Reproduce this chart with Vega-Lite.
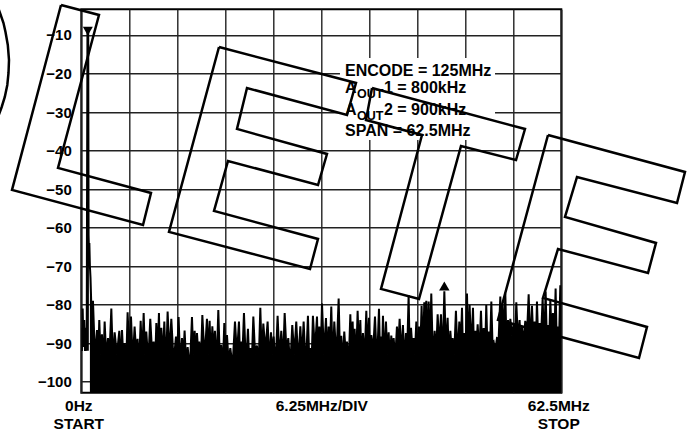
{
"$schema":"https://vega.github.io/schema/vega-lite/v6.json",
"width":480,"height":383.4,
"autosize":{"type":"none"},
"padding":{"left":81.3,"top":9.3,"right":136.7,"bottom":44.3},
"background":"white",
"config":{"view":{"stroke":"black","strokeWidth":2},"font":"Liberation Sans"},
"datasets":{
"spec":[
{"f":0,"d":-86},{"f":0.08,"d":-92},{"f":0.18,"d":-81},{"f":0.28,"d":-91},{"f":0.38,"d":-84},{"f":0.48,"d":-92},{"f":0.58,"d":-86},{"f":0.7,"d":-92},{"f":0.8,"d":-9},{"f":0.85,"d":-92},{"f":0.9,"d":-9},{"f":0.95,"d":-62},{"f":1.0,"d":-66},{"f":1.05,"d":-64},{"f":1.12,"d":-70},{"f":1.2,"d":-73},{"f":1.3,"d":-80},{"f":1.4,"d":-86},{"f":1.52,"d":-79},{"f":1.78,"d":-94},
{"f":2.04,"d":-86.6},{"f":2.19,"d":-95},{"f":2.34,"d":-84},{"f":2.51,"d":-93},{"f":2.69,"d":-87.7},{"f":2.86,"d":-96},{"f":3.04,"d":-84.4},{"f":3.25,"d":-94},{"f":3.47,"d":-88.7},{"f":3.69,"d":-92},{"f":3.91,"d":-81},{"f":4.12,"d":-95},{"f":4.34,"d":-87.2},{"f":4.64,"d":-93},{"f":4.95,"d":-86.8},{"f":5.12,"d":-96},{"f":5.3,"d":-86.6},{"f":5.47,"d":-94},{"f":5.64,"d":-90},{"f":5.83,"d":-97},{"f":6.03,"d":-82},{"f":6.25,"d":-93},{"f":6.47,"d":-83.1},{"f":6.7,"d":-95},{"f":6.94,"d":-85.7},{"f":7.13,"d":-92},{"f":7.33,"d":-88.9},{"f":7.53,"d":-96},{"f":7.73,"d":-84.2},{"f":7.92,"d":-94},{"f":8.12,"d":-82.2},{"f":8.29,"d":-93},{"f":8.46,"d":-87},{"f":8.72,"d":-95},{"f":8.98,"d":-83.7},{"f":9.2,"d":-92},{"f":9.42,"d":-89.6},{"f":9.6,"d":-96},{"f":9.77,"d":-84.8},{"f":9.94,"d":-93},{"f":10.11,"d":-82.2},{"f":10.26,"d":-95},{"f":10.42,"d":-86},{"f":10.61,"d":-94},{"f":10.81,"d":-84.4},{"f":11.02,"d":-97},{"f":11.24,"d":-81.8},{"f":11.48,"d":-93},{"f":11.72,"d":-83.7},{"f":12.02,"d":-95},{"f":12.33,"d":-88.3},{"f":12.5,"d":-92},{"f":12.67,"d":-83.2},{"f":12.89,"d":-96},{"f":13.11,"d":-88.7},{"f":13.28,"d":-94},{"f":13.45,"d":-86.7},{"f":13.65,"d":-95},{"f":13.85,"d":-91},{"f":14.13,"d":-97},{"f":14.41,"d":-83.2},{"f":14.58,"d":-93},{"f":14.76,"d":-86.8},{"f":14.91,"d":-95},{"f":15.06,"d":-87.4},{"f":15.21,"d":-92},{"f":15.36,"d":-89.6},{"f":15.56,"d":-96},{"f":15.76,"d":-82.7},{"f":16.06,"d":-94},{"f":16.36,"d":-83.7},{"f":16.53,"d":-93},{"f":16.71,"d":-84.2},{"f":16.88,"d":-95},{"f":17.06,"d":-85.6},{"f":17.23,"d":-92},{"f":17.4,"d":-86.8},{"f":17.62,"d":-96},{"f":17.84,"d":-81.4},{"f":18.03,"d":-94},{"f":18.23,"d":-90.5},{"f":18.42,"d":-97},{"f":18.62,"d":-84.8},{"f":18.79,"d":-93},{"f":18.97,"d":-87.9},{"f":19.18,"d":-95},{"f":19.4,"d":-91.3},{"f":19.7,"d":-96},{"f":20.01,"d":-84.4},{"f":20.27,"d":-93},{"f":20.53,"d":-84.4},{"f":20.68,"d":-95},{"f":20.83,"d":-89.6},{"f":21.0,"d":-92},{"f":21.18,"d":-82.2},{"f":21.44,"d":-96},{"f":21.7,"d":-86.3},{"f":21.85,"d":-94},{"f":22.01,"d":-91.3},{"f":22.2,"d":-95},{"f":22.4,"d":-83.1},{"f":22.63,"d":-93},{"f":22.87,"d":-90.6},{"f":23.09,"d":-96},{"f":23.31,"d":-80.8},{"f":23.5,"d":-94},{"f":23.7,"d":-84.9},{"f":23.98,"d":-92},{"f":24.26,"d":-84.4},{"f":24.48,"d":-95},{"f":24.7,"d":-87.2},{"f":24.87,"d":-93},{"f":25.04,"d":-88.3},{"f":25.3,"d":-96},{"f":25.56,"d":-82.9},{"f":25.8,"d":-94},{"f":26.04,"d":-86.8},{"f":26.26,"d":-95},{"f":26.48,"d":-82.2},{"f":26.71,"d":-92},{"f":26.95,"d":-88.7},{"f":27.21,"d":-96},{"f":27.47,"d":-85.3},{"f":27.73,"d":-93},{"f":27.99,"d":-84.4},{"f":28.25,"d":-95},{"f":28.52,"d":-85.6},{"f":28.73,"d":-94},{"f":28.95,"d":-84.4},{"f":29.23,"d":-97},{"f":29.51,"d":-82.9},{"f":29.66,"d":-93},{"f":29.82,"d":-91.3},{"f":29.99,"d":-95},{"f":30.16,"d":-82.9},{"f":30.42,"d":-92},{"f":30.69,"d":-83.1},{"f":30.84,"d":-96},{"f":30.99,"d":-85.7},{"f":31.16,"d":-94},{"f":31.34,"d":-79.7},{"f":31.6,"d":-93},{"f":31.86,"d":-83.5},{"f":32.03,"d":-95},{"f":32.2,"d":-85.7},{"f":32.37,"d":-92},{"f":32.55,"d":-80.5},{"f":32.74,"d":-96},{"f":32.94,"d":-84.4},{"f":33.22,"d":-94},{"f":33.51,"d":-78.4},{"f":33.68,"d":-93},{"f":33.85,"d":-88.1},{"f":34.04,"d":-95},{"f":34.24,"d":-87},{"f":34.41,"d":-92},{"f":34.59,"d":-89.6},{"f":34.81,"d":-96},{"f":35.03,"d":-82.5},{"f":35.18,"d":-94},{"f":35.33,"d":-84.4},{"f":35.46,"d":-93},{"f":35.59,"d":-86.3},{"f":35.78,"d":-95},{"f":35.98,"d":-81.6},{"f":36.15,"d":-92},{"f":36.33,"d":-84},{"f":36.5,"d":-96},{"f":36.67,"d":-87.4},{"f":36.89,"d":-94},{"f":37.11,"d":-81.6},{"f":37.28,"d":-93},{"f":37.46,"d":-83.4},{"f":37.61,"d":-95},{"f":37.76,"d":-87.9},{"f":38.0,"d":-92},{"f":38.24,"d":-83.1},{"f":38.5,"d":-96},{"f":38.76,"d":-81.1},{"f":38.91,"d":-94},{"f":39.06,"d":-88.3},{"f":39.17,"d":-92},{"f":39.28,"d":-82.9},{"f":39.47,"d":-95},{"f":39.67,"d":-84.4},{"f":39.84,"d":-93},{"f":40.02,"d":-87.2},{"f":40.19,"d":-95},{"f":40.36,"d":-88},{"f":40.51,"d":-92},{"f":40.67,"d":-88.7},{"f":40.88,"d":-94},{"f":41.1,"d":-85.7},{"f":41.27,"d":-91},{"f":41.45,"d":-83.7},{"f":41.66,"d":-93},{"f":41.88,"d":-85.3},{"f":42.07,"d":-95},{"f":42.27,"d":-87.4},{"f":42.44,"d":-92},{"f":42.62,"d":-77.5},{"f":42.77,"d":-94},{"f":42.93,"d":-86},{"f":43.1,"d":-91},{"f":43.27,"d":-88.7},{"f":43.44,"d":-93},{"f":43.62,"d":-84.4},{"f":43.79,"d":-95},{"f":43.97,"d":-85.7},{"f":44.14,"d":-92},{"f":44.31,"d":-80.3},{"f":44.48,"d":-93},{"f":44.66,"d":-79.4},{"f":44.79,"d":-91},{"f":44.92,"d":-79},{"f":45.07,"d":-94},{"f":45.23,"d":-79.2},{"f":45.4,"d":-92},{"f":45.57,"d":-77.1},{"f":45.79,"d":-95},{"f":46.01,"d":-86.8},{"f":46.2,"d":-93},{"f":46.4,"d":-82.5},{"f":46.61,"d":-91},{"f":46.83,"d":-82.5},{"f":47.05,"d":-94},{"f":47.27,"d":-76.5},{"f":47.48,"d":-92},{"f":47.7,"d":-83.4},{"f":47.87,"d":-95},{"f":48.05,"d":-86.8},{"f":48.2,"d":-91},{"f":48.35,"d":-88.7},{"f":48.56,"d":-93},{"f":48.78,"d":-81.6},{"f":49.0,"d":-94},{"f":49.22,"d":-84.4},{"f":49.39,"d":-92},{"f":49.57,"d":-80.8},{"f":49.72,"d":-95},{"f":49.87,"d":-87.4},{"f":50.04,"d":-91},{"f":50.22,"d":-77.1},{"f":50.39,"d":-93},{"f":50.56,"d":-80.1},{"f":50.78,"d":-92},{"f":51.0,"d":-80.8},{"f":51.15,"d":-94},{"f":51.3,"d":-86.8},{"f":51.45,"d":-91},{"f":51.61,"d":-85.1},{"f":51.82,"d":-93},{"f":52.04,"d":-81.6},{"f":52.21,"d":-92},{"f":52.39,"d":-86.1},{"f":52.56,"d":-94},{"f":52.73,"d":-80.1},{"f":52.88,"d":-91},{"f":53.04,"d":-87},{"f":53.21,"d":-92},{"f":53.39,"d":-79.2},{"f":53.54,"d":-90},{"f":53.69,"d":-89.6},{"f":53.9,"d":-92},{"f":54.12,"d":-88.7},{"f":54.34,"d":-89},{"f":54.56,"d":-77.9},{"f":54.71,"d":-91},{"f":54.86,"d":-80.1},{"f":55.03,"d":-89},{"f":55.21,"d":-77.1},{"f":55.38,"d":-92},{"f":55.56,"d":-84},{"f":55.71,"d":-90},{"f":55.86,"d":-83.7},{"f":56.07,"d":-88},{"f":56.29,"d":-85.1},{"f":56.46,"d":-91},{"f":56.64,"d":-79.4},{"f":56.85,"d":-89},{"f":57.07,"d":-84},{"f":57.22,"d":-92},{"f":57.38,"d":-85.7},{"f":57.59,"d":-90},{"f":57.81,"d":-84.2},{"f":58.03,"d":-88},{"f":58.25,"d":-77.3},{"f":58.46,"d":-91},{"f":58.68,"d":-80.3},{"f":58.85,"d":-89},{"f":59.03,"d":-84.4},{"f":59.18,"d":-92},{"f":59.33,"d":-79.2},{"f":59.5,"d":-90},{"f":59.68,"d":-84.8},{"f":59.87,"d":-88},{"f":60.07,"d":-78.4},{"f":60.26,"d":-91},{"f":60.46,"d":-76.6},{"f":60.61,"d":-89},{"f":60.76,"d":-85.3},{"f":60.91,"d":-91},{"f":61.07,"d":-78.8},{"f":61.24,"d":-88},{"f":61.41,"d":-82.2},{"f":61.58,"d":-90},{"f":61.76,"d":-75.8},{"f":61.89,"d":-89},{"f":62.02,"d":-85.7},{"f":62.19,"d":-91},{"f":62.37,"d":-75},{"f":62.5,"d":-88}
],
"wm":[
{"s":"O","i":0,"f":-11.107,"d":-1.435},{"s":"O","i":1,"f":-10.586,"d":-4.29},{"s":"O","i":2,"f":-10.13,"d":-6.886},{"s":"O","i":3,"f":-9.87,"d":-9.222},{"s":"O","i":4,"f":-9.57,"d":-12.597},{"s":"O","i":5,"f":-9.414,"d":-16.49},{"s":"O","i":6,"f":-9.479,"d":-19.865},{"s":"O","i":7,"f":-9.635,"d":-22.979},{"s":"O","i":8,"f":-9.961,"d":-26.094},{"s":"O","i":9,"f":-10.365,"d":-28.69},{"s":"O","i":10,"f":-10.846,"d":-31.286},
{"s":"L","i":0,"f":-2.643,"d":-2.214},{"s":"L","i":1,"f":2.305,"d":-4.81},{"s":"L","i":2,"f":-3.034,"d":-44.524},{"s":"L","i":3,"f":9.076,"d":-51.013},{"s":"L","i":4,"f":8.034,"d":-59.319},{"s":"L","i":5,"f":-9.023,"d":-50.234},{"s":"L","i":6,"f":-2.643,"d":-2.214},
{"s":"E1","i":0,"f":17.93,"d":-13.116},{"s":"E1","i":1,"f":35.768,"d":-22.46},{"s":"E1","i":2,"f":34.596,"d":-30.767},{"s":"E1","i":3,"f":21.576,"d":-23.758},{"s":"E1","i":4,"f":20.273,"d":-34.401},{"s":"E1","i":5,"f":31.992,"d":-40.89},{"s":"E1","i":6,"f":30.82,"d":-48.936},{"s":"E1","i":7,"f":19.102,"d":-42.707},{"s":"E1","i":8,"f":17.279,"d":-55.685},{"s":"E1","i":9,"f":30.82,"d":-62.953},{"s":"E1","i":10,"f":29.779,"d":-70.74},{"s":"E1","i":11,"f":11.419,"d":-61.136},{"s":"E1","i":12,"f":17.93,"d":-13.116},
{"s":"T","i":0,"f":37.852,"d":-23.758},{"s":"T","i":1,"f":57.773,"d":-34.401},{"s":"T","i":2,"f":56.602,"d":-42.447},{"s":"T","i":3,"f":49.44,"d":-38.813},{"s":"T","i":4,"f":43.971,"d":-78.527},{"s":"T","i":5,"f":39.023,"d":-75.932},{"s":"T","i":6,"f":44.362,"d":-35.958},{"s":"T","i":7,"f":37.07,"d":-32.064},{"s":"T","i":8,"f":37.852,"d":-23.758},
{"s":"E2","i":0,"f":60.768,"d":-35.958},{"s":"E2","i":1,"f":78.607,"d":-45.562},{"s":"E2","i":2,"f":77.565,"d":-53.609},{"s":"E2","i":3,"f":64.544,"d":-46.86},{"s":"E2","i":4,"f":62.982,"d":-57.243},{"s":"E2","i":5,"f":74.831,"d":-63.992},{"s":"E2","i":6,"f":73.789,"d":-71.779},{"s":"E2","i":7,"f":62.07,"d":-65.549},{"s":"E2","i":8,"f":60.117,"d":-78.268},{"s":"E2","i":9,"f":73.659,"d":-85.795},{"s":"E2","i":10,"f":72.617,"d":-93.842},{"s":"E2","i":11,"f":54.258,"d":-83.978},{"s":"E2","i":12,"f":60.768,"d":-35.958}
],
"box":[{"f":33.68,"f2":53.87,"d":-15.97,"d2":-37.26}],
"mkdown":[{"f":0.85,"d":-9.0}],
"mkup":[{"f":47.27,"d":-75.15}],
"txt":[
{"f":34.34,"d":-20.64,"t":"ENCODE = 125MHz"},
{"f":34.34,"d":-24.98,"t":"A"},
{"f":39.41,"d":-24.98,"t":"1 = 800kHz"},
{"f":34.34,"d":-30.77,"t":"A"},
{"f":39.41,"d":-30.77,"t":"2 = 900kHz"},
{"f":34.34,"d":-36.22,"t":"SPAN = 62.5MHz"}
],
"sub":[
{"f":35.9,"d":-26.43,"t":"OUT"},
{"f":35.9,"d":-32.06,"t":"OUT"}
]
},
"encoding":{
  "x":{"field":"f","type":"quantitative","scale":{"domain":[0,62.5],"nice":false,"zero":false},
   "axis":{"values":[0,6.25,12.5,18.75,25,31.25,37.5,43.75,50,56.25,62.5],"grid":true,"ticks":false,"domain":false,"title":null,
    "labelExpr":"datum.value == 0 ? ['0Hz','START'] : datum.value == 62.5 ? ['62.5MHz','STOP'] : datum.value == 31.25 ? '6.25MHz/DIV' : ''",
    "labelFont":"Liberation Sans","labelFontSize":15.5,"labelFontWeight":"bold","labelColor":"black","labelPadding":6,"labelLineHeight":17.5,
    "labelFlush":false,"labelOverlap":false,"labelBound":false,"gridColor":"#222222","gridWidth":1.4,"gridOpacity":1,
    "labelOffset":{"condition":{"test":"datum.value != 31.25","value":-3},"value":0}}},
  "y":{"field":"d","type":"quantitative","scale":{"domain":[-102.86,-3.33],"nice":false,"zero":false},
   "axis":{"values":[-10,-20,-30,-40,-50,-60,-70,-80,-90,-100],"grid":true,"ticks":false,"domain":false,"title":null,
    "labelFont":"Liberation Sans","labelFontSize":15,"labelFontWeight":"bold","labelColor":"black","labelPadding":10,
    "gridColor":"#222222","gridWidth":1.4,"gridOpacity":1}}
},
"layer":[
{"data":{"name":"spec"},"transform":[{"filter":"datum.f >= 1.1"}],
 "mark":{"type":"area","color":"black","clip":true},
 "encoding":{"y2":{"datum":-102.86}}},
{"data":{"name":"spec"},
 "mark":{"type":"line","color":"black","strokeWidth":2,"clip":true}},
{"data":{"name":"mkdown"},
 "mark":{"type":"point","shape":"triangle-down","filled":true,"color":"black","size":100,"opacity":1}},
{"data":{"name":"mkup"},
 "mark":{"type":"point","shape":"triangle-up","filled":true,"color":"black","size":110,"opacity":1}},
{"data":{"name":"box"},
 "mark":{"type":"rect","color":"white","opacity":1},
 "encoding":{"x2":{"field":"f2"},"y2":{"field":"d2"}}},
{"data":{"name":"wm"},
 "mark":{"type":"line","color":"black","strokeWidth":2.5,"strokeJoin":"miter","clip":false},
 "encoding":{"detail":{"field":"s"},"order":{"field":"i","type":"quantitative"}}},
{"data":{"name":"txt"},
 "mark":{"type":"text","font":"Liberation Sans","fontSize":16,"fontWeight":"bold","align":"left","baseline":"alphabetic","color":"black"},
 "encoding":{"text":{"field":"t"}}},
{"data":{"name":"sub"},
 "mark":{"type":"text","font":"Liberation Sans","fontSize":12.5,"fontWeight":"bold","align":"left","baseline":"alphabetic","color":"black"},
 "encoding":{"text":{"field":"t"}}}
]
}
